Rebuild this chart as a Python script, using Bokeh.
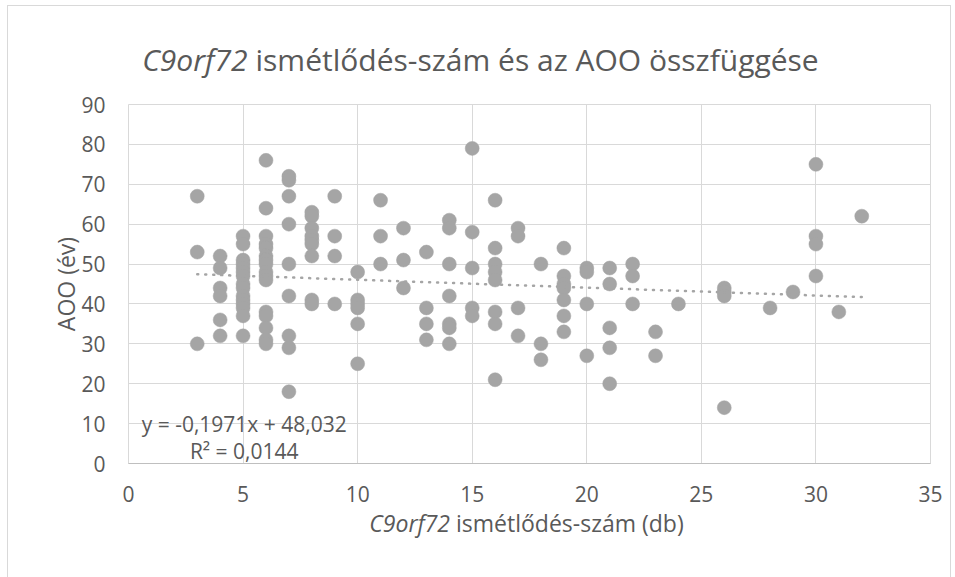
from bokeh.plotting import figure
from bokeh.layouts import column
from bokeh.models import Range1d, FixedTicker, ColumnDataSource
from bokeh.core.properties import value
from bokeh.embed import file_html
from bokeh.resources import INLINE

# --- data ---
repeat_counts = (
    [3] * 3 + [4] * 6 + [5] * 15 + [6] * 16 + [7] * 9 + [8] * 9 + [9] * 4 +
    [10] * 6 + [11] * 3 + [12] * 3 + [13] * 4 + [14] * 7 + [15] * 5 +
    [16] * 8 + [17] * 4 + [18] * 3 + [19] * 7 + [20] * 4 + [21] * 5 +
    [22] * 3 + [23] * 2 + [24] * 1 + [26] * 4 + [28] * 1 + [29] * 1 +
    [30] * 4 + [31] * 1 + [32] * 1
)
aoo_years = (
    [67, 53, 30] +
    [52, 49, 44, 42, 36, 32] +
    [57, 55, 51, 50, 49, 48, 47, 45, 44, 42, 41, 40, 39, 37, 32] +
    [76, 64, 57, 55, 54, 52, 51, 50, 48, 47, 46, 38, 37, 34, 31, 30] +
    [72, 71, 67, 60, 50, 42, 32, 29, 18] +
    [63, 62, 59, 57, 56, 55, 52, 41, 40] +
    [67, 57, 52, 40] +
    [48, 41, 40, 39, 35, 25] +
    [66, 57, 50] +
    [59, 51, 44] +
    [53, 39, 35, 31] +
    [61, 59, 50, 42, 35, 34, 30] +
    [79, 58, 49, 39, 37] +
    [66, 54, 50, 48, 46, 38, 35, 21] +
    [59, 57, 39, 32] +
    [50, 30, 26] +
    [54, 47, 45, 44, 41, 37, 33] +
    [49, 48, 40, 27] +
    [49, 45, 34, 29, 20] +
    [50, 47, 40] +
    [33, 27] +
    [40] +
    [44, 43, 42, 14] +
    [39] +
    [43] +
    [75, 57, 55, 47] +
    [38] +
    [62]
)
trend_slope = -0.1971
trend_intercept = 48.032
equation_text = "y = -0,1971x + 48,032"
r2_text = "R\u00b2 = 0,0144"
x_ticks = [0, 5, 10, 15, 20, 25, 30, 35]
y_ticks = [0, 10, 20, 30, 40, 50, 60, 70, 80, 90]
title_italic = "C9orf72"
title_rest = "ismétlődés-szám és az AOO összfüggése"
xlabel_italic = "C9orf72"
xlabel_rest = "ismétlődés-szám (db)"
ylabel_text = "AOO (év)"

FONT = "Open Sans"
TEXT_COLOR = "#595959"
MARK_COLOR = "#a5a5a5"
GRID_COLOR = "#d9d9d9"
W, H = 955, 577
FRAME_L, FRAME_R = 128, 930   # page pixels of the plot frame

# ---------------- main chart ----------------
p = figure(
    width=W, height=H,
    output_backend="svg", toolbar_location=None, title=None,
    x_range=Range1d(0, 35), y_range=Range1d(0, 90),
    min_border_left=FRAME_L, min_border_right=W - FRAME_R,
    min_border_top=104, min_border_bottom=114,
    background_fill_color="white", border_fill_color=None,
)
p.outline_line_color = GRID_COLOR

p.xaxis.ticker = FixedTicker(ticks=x_ticks)
p.yaxis.ticker = FixedTicker(ticks=y_ticks)
p.xgrid.ticker = FixedTicker(ticks=x_ticks)
p.ygrid.ticker = FixedTicker(ticks=y_ticks)
p.grid.grid_line_color = GRID_COLOR
p.grid.grid_line_width = 1

for ax in (p.xaxis, p.yaxis):
    ax.major_tick_line_color = None
    ax.minor_tick_line_color = None
    ax.major_tick_out = 0
    ax.major_tick_in = 0
    ax.major_label_text_font = FONT
    ax.major_label_text_font_size = "21px"
    ax.major_label_text_color = TEXT_COLOR
p.xaxis.axis_line_color = "#bfbfbf"
p.yaxis.axis_line_color = None
p.xaxis.major_label_standoff = 22
p.yaxis.major_label_standoff = 23

p.yaxis.axis_label = ylabel_text
p.yaxis.axis_label_text_font = FONT
p.yaxis.axis_label_text_font_size = "23px"
p.yaxis.axis_label_text_font_style = "normal"
p.yaxis.axis_label_text_color = TEXT_COLOR
p.yaxis.axis_label_standoff = -4

src = ColumnDataSource(dict(x=repeat_counts, y=aoo_years))
p.scatter("x", "y", source=src, size=14, fill_color=MARK_COLOR,
          line_color=MARK_COLOR, line_width=0.5)

tx = [min(repeat_counts), max(repeat_counts)]
ty = [trend_slope * v + trend_intercept for v in tx]
p.line(tx, ty, line_color=MARK_COLOR, line_width=2.5, line_dash="1 7",
       line_cap="round")

p.text(x=[5.05, 5.05], y=[9.8, 3.2], text=[equation_text, r2_text],
       text_font=value(FONT), text_font_size="21px", text_color=TEXT_COLOR,
       text_align="center", text_baseline="alphabetic")


# ---------------- text strips (page-pixel x, y downwards) ----------------
def strip(height):
    return figure(
        width=W, height=height, output_backend="svg", toolbar_location=None,
        title=None, x_range=Range1d(FRAME_L, FRAME_R),
        y_range=Range1d(height, 0),
        x_axis_type=None, y_axis_type=None, min_border=0,
        background_fill_color=None, border_fill_color=None,
        outline_line_color=None,
    )


def put(f, x, y, text, size, align, style="normal"):
    f.text(x=[x], y=[y], text=[text], text_font=value(FONT),
           text_font_size=size, text_font_style=style,
           text_color=TEXT_COLOR, text_align=align,
           text_baseline="alphabetic")


title_fig = strip(90)
put(title_fig, 247, 59, title_italic, "30px", "right", "italic")
put(title_fig, 255, 59, title_rest, "30px", "left")
title_fig.margin = (0, 0, -90, 0)

XL_H = 70
xlabel_fig = strip(XL_H)
put(xlabel_fig, 449.5, 15, xlabel_italic, "23px", "right", "italic")
put(xlabel_fig, 455.5, 15, xlabel_rest, "23px", "left")
xlabel_fig.margin = (-XL_H, 0, 0, 0)

layout = column(title_fig, p, xlabel_fig, spacing=0)
g = "linear-gradient(#d9d9d9, #d9d9d9)"
layout.styles = {
    "background-image": f"{g}, {g}, {g}",
    "background-size": "1px 100%, 944px 1px, 1px 100%",
    "background-position": "7px 5px, 7px 5px, 950px 5px",
    "background-repeat": "no-repeat",
}

open("out.html", "w").write(file_html(layout, INLINE))
